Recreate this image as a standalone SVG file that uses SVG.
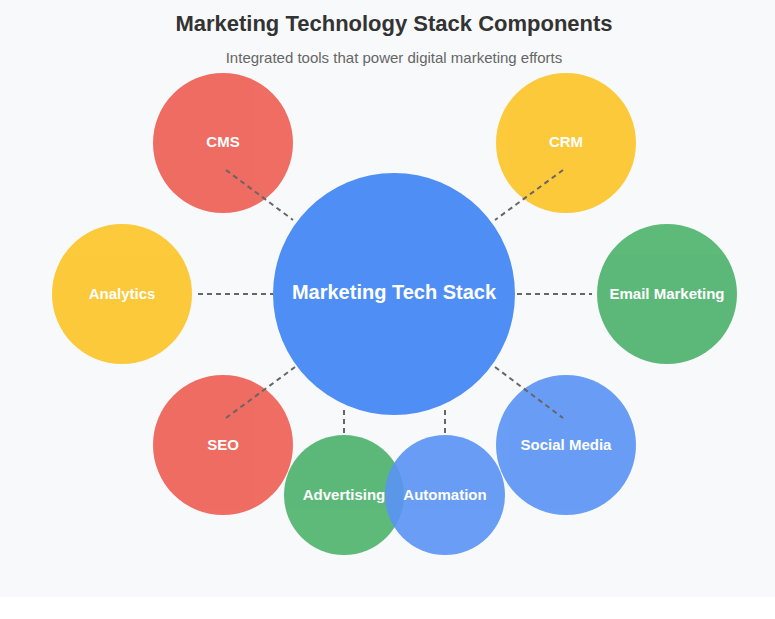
<svg xmlns="http://www.w3.org/2000/svg" width="775" height="619" viewBox="0 0 775 619">
<style>
.t{font-family:"Liberation Sans",Arial,sans-serif;font-weight:bold;fill:#fff;text-anchor:middle;dominant-baseline:central}
.c{stroke:#666;stroke-width:2;stroke-dasharray:5,4;fill:none}
.s{opacity:0.9}
</style>
<rect width="775" height="619" fill="#fff"/>
<rect width="775" height="597" fill="#f8f9fa"/>
<text x="394" y="23" font-family="Liberation Sans,Arial,sans-serif" font-size="22" font-weight="bold" fill="#333" text-anchor="middle" dominant-baseline="central">Marketing Technology Stack Components</text>
<text x="394" y="57" font-family="Liberation Sans,Arial,sans-serif" font-size="15" fill="#666" text-anchor="middle" dominant-baseline="central">Integrated tools that power digital marketing efforts</text>
<g id="center"><circle cx="394" cy="294" r="121" fill="#4f8ff5"/><text class="t" x="394" y="292" font-size="20">Marketing Tech Stack</text></g>
<g id="cms" class="s"><circle cx="223" cy="143" r="70" fill="#ee5d52"/><text class="t" x="223" y="141" font-size="15">CMS</text></g>
<g id="crm" class="s"><circle cx="566" cy="143" r="70" fill="#fcc425"/><text class="t" x="566" y="141" font-size="15">CRM</text></g>
<g id="analytics" class="s"><circle cx="122" cy="294" r="70" fill="#fcc425"/><text class="t" x="122" y="293" font-size="15">Analytics</text></g>
<g id="email" class="s"><circle cx="667" cy="294" r="70" fill="#4cb26a"/><text class="t" x="667" y="293" font-size="15">Email Marketing</text></g>
<g id="seo" class="s"><circle cx="223" cy="445" r="70" fill="#ee5d52"/><text class="t" x="223" y="444" font-size="15">SEO</text></g>
<g id="social" class="s"><circle cx="566" cy="445" r="70" fill="#5a94f5"/><text class="t" x="566" y="444" font-size="15">Social Media</text></g>
<g id="advertising" class="s"><circle cx="344" cy="495" r="60" fill="#4cb26a"/><text class="t" x="344" y="494" font-size="15">Advertising</text></g>
<g id="automation" class="s"><circle cx="445" cy="495" r="60" fill="#5a94f5"/><text class="t" x="445" y="494" font-size="15">Automation</text></g>
<g id="connectors">
<line class="c" x1="226" y1="170" x2="293" y2="220"/>
<line class="c" x1="563" y1="170" x2="495" y2="220"/>
<line class="c" x1="198" y1="294" x2="273" y2="294"/>
<line class="c" x1="517" y1="294" x2="592" y2="294"/>
<line class="c" x1="226" y1="418" x2="295" y2="367"/>
<line class="c" x1="495" y1="367" x2="563" y2="418"/>
<line class="c" x1="344" y1="410" x2="344" y2="435"/>
<line class="c" x1="445" y1="410" x2="445" y2="435"/>
</g>
</svg>
